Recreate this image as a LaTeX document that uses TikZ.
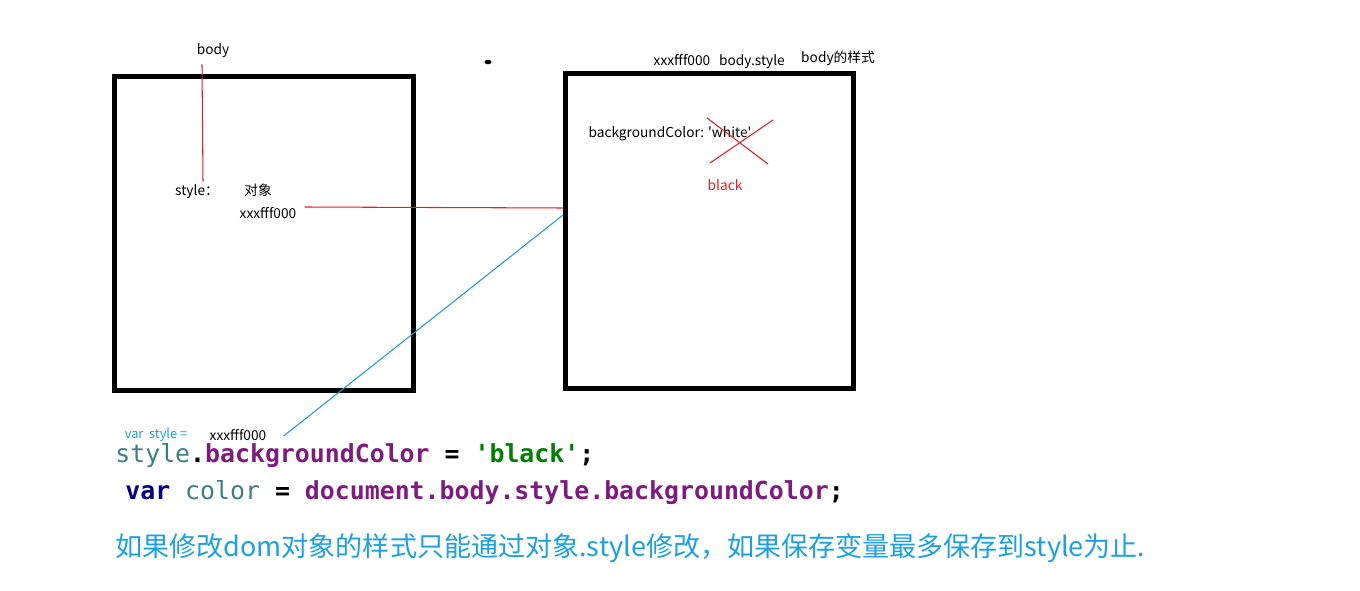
\documentclass[tikz,border=0pt]{standalone}
\usepackage{fontspec}
\newfontfamily\cjk{Noto Sans CJK SC}
\newfontfamily\codefont{DejaVu Sans Mono}
\usetikzlibrary{calc,positioning}
\definecolor{NoteBlue}{HTML}{1BA1E2}
\definecolor{LineBlue}{HTML}{1E9BD7}
\definecolor{CodeTeal}{HTML}{3F7F7F}
\definecolor{CodePurple}{HTML}{7F1A7F}
\definecolor{CodeGreen}{HTML}{008000}
\definecolor{CodeNavy}{HTML}{000080}
\definecolor{MarkRed}{HTML}{ED1C24}

\tikzset{
  tag/.style={font=\cjk\fontsize{7.8}{9}\selectfont, inner sep=0pt},
  membox/.style={draw, line width=2.8pt, inner sep=0pt},
  codeline/.style={font=\codefont\bfseries\fontsize{14.15}{16}\selectfont, inner sep=0pt, anchor=base west},
  markline/.style={draw=MarkRed, line width=0.6pt},
  pointline/.style={draw=LineBlue, line width=0.6pt}
}

\begin{document}
\begin{tikzpicture}[x=0.02cm, y=-0.02cm]
    \useasboundingbox (0,0) rectangle (1360,591);

    \node[membox, minimum width=5.98cm, minimum height=6.28cm] (leftbox) at (264,233.5) {};
    \node[membox, minimum width=5.76cm, minimum height=6.3cm] (rightbox) at (709.5,231) {};

    \node[tag] (body) at (213,51) {body};
    \node[tag] (stylekey) at (197,192) {style：};
    \node[tag] (objword) at (258,190) {对象};
    \node[tag] (addrleft) at (268,213) {xxxfff000};

    \node[tag] (addrright) at (682,60) {xxxfff000};
    \node[tag] (bodystyle) at (752,62) {body.style};
    \node[tag] (bodynote) at (838,58) {body的样式};
    \node[tag] (white) at (670,134) {backgroundColor: 'white'};
    \node[tag, text=MarkRed] (blackword) at (725,185) {black};

    \node[tag, text=NoteBlue, font=\cjk\fontsize{7.3}{8}\selectfont] (varstyle) at (156,435) {var\ \ style =};
    \node[tag] (addrbottom) at (238,435) {xxxfff000};

    \fill (488,62) ellipse [x radius=2pt, y radius=1.3pt];

    \draw[markline] ($(body.south)+(-11,6)$) -- ($(stylekey.north)+(6,-3)$);
    \draw[markline] ($(addrleft.east)+(8,-6)$) -- ($(rightbox.west)+(0,-23)$);
    \draw[pointline] ($(rightbox.west)+(0,-16)$) -- ($(addrbottom.east)+(17,1)$);

    \coordinate (crossA) at (707,118);
    \coordinate (crossB) at (768,164);
    \coordinate (crossC) at (773,120);
    \coordinate (crossD) at (710,163);
    \draw[markline] (crossA) -- (crossB);
    \draw[markline] (crossC) -- (crossD);

    \node[codeline] (codeA) at (115,462) {\textcolor{CodeTeal}{\mdseries style}.\textcolor{CodePurple}{backgroundColor} = \textcolor{CodeGreen}{'black'};};
    \node[codeline] (codeB) at (125,500) {\textcolor{CodeNavy}{var} \textcolor{CodeTeal}{\mdseries color} = \textcolor{CodePurple}{document.body.style.backgroundColor};};

    \node[inner sep=0pt, anchor=base west, text=NoteBlue, font=\cjk\fontsize{15.4}{18}\selectfont] (summary) at (115,556) {如果修改dom对象的样式只能通过对象.style修改，如果保存变量最多保存到style为止.};
\end{tikzpicture}
\end{document}
